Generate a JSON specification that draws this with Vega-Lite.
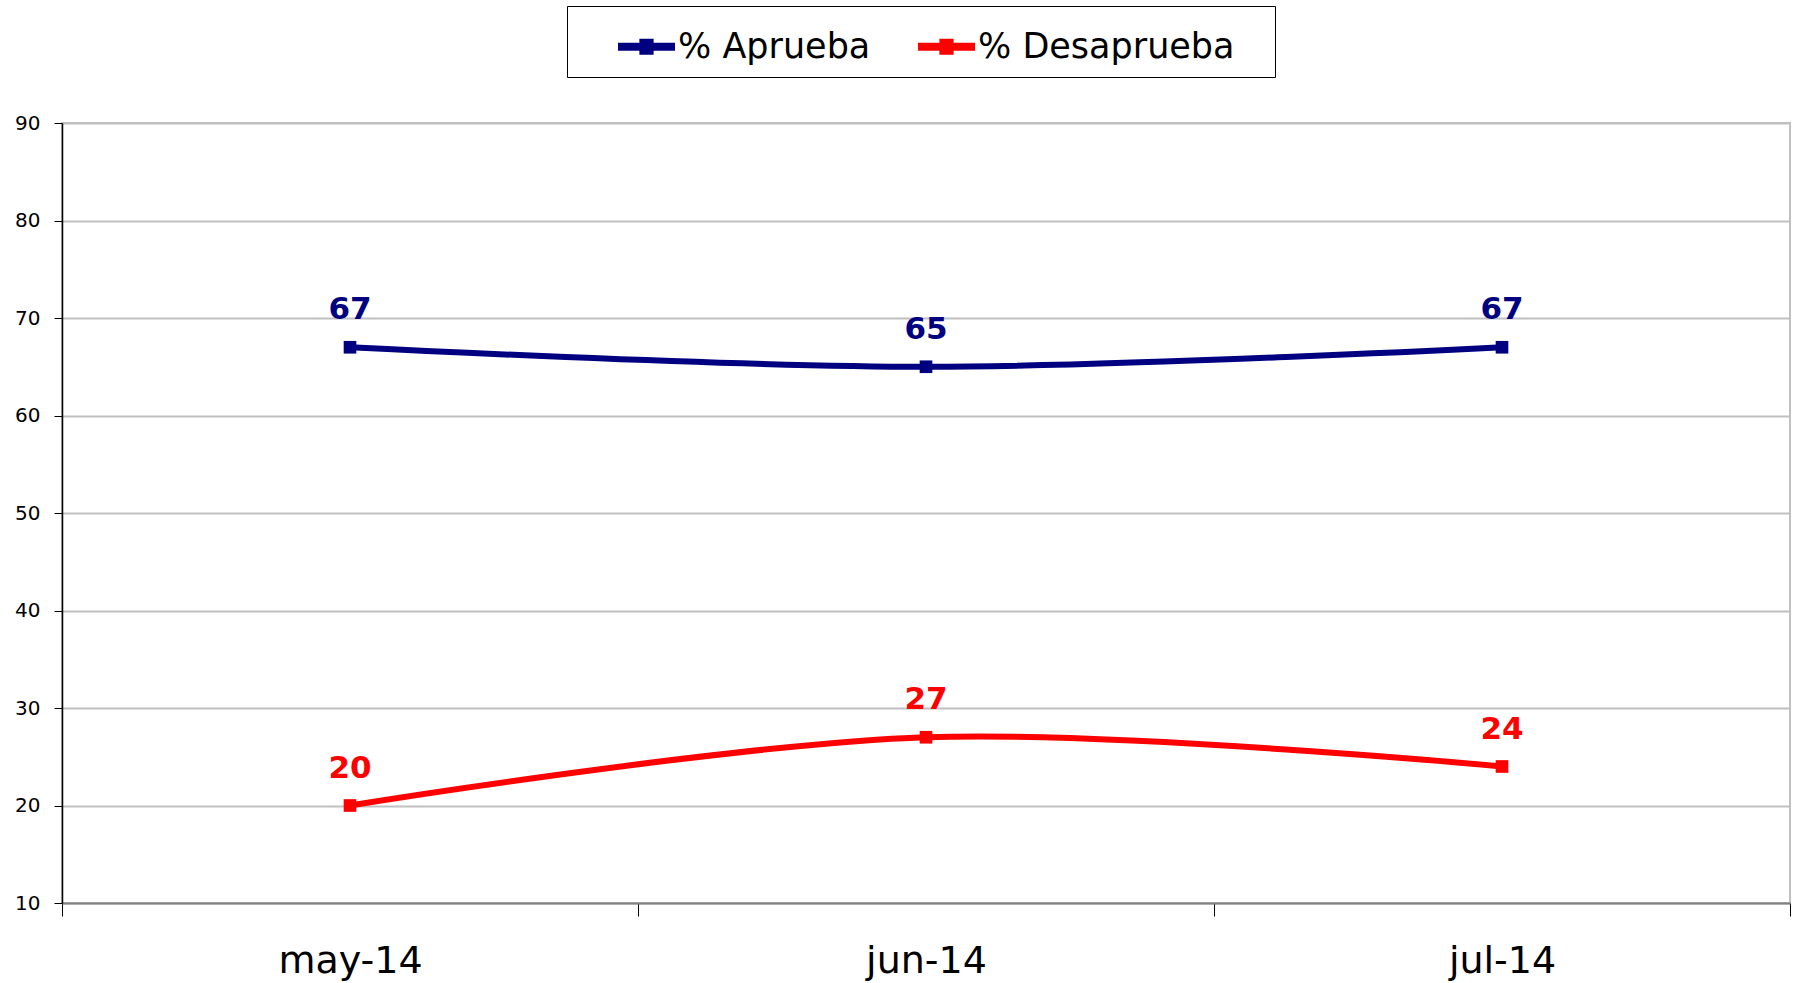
{
  "$schema": "https://vega.github.io/schema/vega-lite/v6.json",
  "width": 1728,
  "height": 780,
  "autosize": {"type": "none"},
  "padding": {"left": 62, "top": 123, "right": 11, "bottom": 80},
  "background": "white",
  "config": {
    "view": {"stroke": "#c0c0c0", "strokeWidth": 2},
    "font": "DejaVu Sans"
  },
  "data": {
    "values": [
      {"month": "may-14", "serie": "% Aprueba", "value": 67},
      {"month": "jun-14", "serie": "% Aprueba", "value": 65},
      {"month": "jul-14", "serie": "% Aprueba", "value": 67},
      {"month": "may-14", "serie": "% Desaprueba", "value": 20},
      {"month": "jun-14", "serie": "% Desaprueba", "value": 27},
      {"month": "jul-14", "serie": "% Desaprueba", "value": 24}
    ]
  },
  "encoding": {
    "x": {
      "field": "month",
      "type": "nominal",
      "sort": ["may-14", "jun-14", "jul-14"],
      "scale": {"paddingInner": 0, "paddingOuter": 0},
      "axis": {
        "title": null,
        "labelAngle": 0,
        "labelFontSize": 38,
        "labelFont": "DejaVu Sans",
        "labelColor": "#000",
        "labelPadding": 26,
        "tickBand": "extent",
        "tickColor": "#000",
        "tickSize": 13,
        "tickWidth": 1,
        "domainColor": "#808080",
        "domainWidth": 2,
        "grid": false
      }
    },
    "y": {
      "field": "value",
      "type": "quantitative",
      "scale": {"domain": [10, 90], "nice": false, "zero": false},
      "axis": {
        "title": null,
        "values": [10, 20, 30, 40, 50, 60, 70, 80, 90],
        "labelFontSize": 20,
        "labelFont": "DejaVu Sans",
        "labelColor": "#000",
        "labelPadding": 14,
        "tickColor": "#000",
        "tickSize": 8,
        "domainColor": "#000",
        "domainWidth": 1.5,
        "grid": true,
        "gridColor": "#c0c0c0",
        "gridWidth": 2
      }
    },
    "color": {
      "field": "serie",
      "type": "nominal",
      "scale": {"domain": ["% Aprueba", "% Desaprueba"], "range": ["#000080", "#FF0000"]},
      "legend": {
        "title": " ",
        "titleOrient": "right",
        "titlePadding": 28,
        "titleFontSize": 10,
        "orient": "none",
        "direction": "horizontal",
        "legendX": 505,
        "legendY": -117,
        "padding": 12,
        "strokeColor": "#000",
        "fillColor": "#fff",
        "symbolType": "M-1,-0.14L1,-0.14L1,0.14L-1,0.14Z M-0.25,-0.28L0.25,-0.28L0.25,0.28L-0.25,0.28Z",
        "symbolSize": 3249,
        "symbolOffset": 39,
        "symbolStrokeWidth": 0,
        "labelFontSize": 35,
        "labelFont": "DejaVu Sans",
        "labelColor": "#000",
        "labelOffset": 3,
        "columnPadding": 8,
        "labelLimit": 400,
        "encode": {
          "symbols": {"update": {"fill": {"scale": "color", "field": "value"}, "fillOpacity": {"value": 1}, "strokeWidth": {"value": 0}}}
        }
      }
    }
  },
  "layer": [
    {"mark": {"type": "line", "strokeWidth": 6, "interpolate": "catmull-rom"}},
    {"mark": {"type": "square", "size": 160, "opacity": 1, "filled": true}},
    {
      "mark": {"type": "text", "dy": -37, "fontWeight": "bold", "fontSize": 31, "font": "DejaVu Sans"},
      "encoding": {"text": {"field": "value", "type": "quantitative"}}
    }
  ]
}
